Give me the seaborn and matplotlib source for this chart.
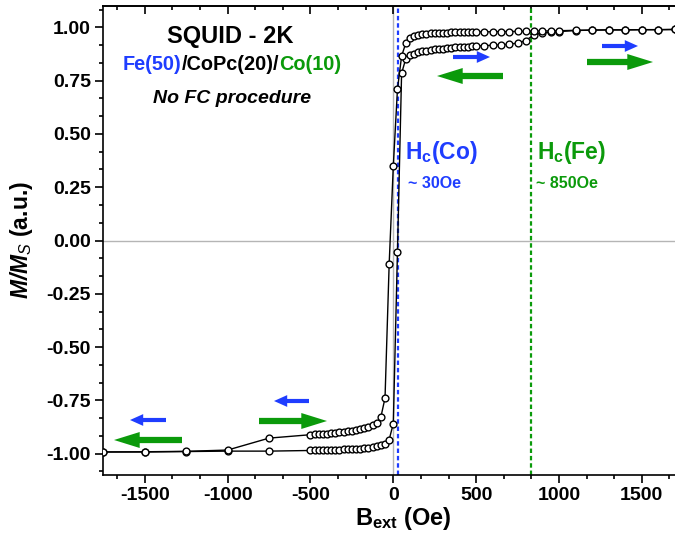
import matplotlib
matplotlib.use("Agg")
import numpy as np
import pandas as pd
import seaborn as sns
import matplotlib.pyplot as plt
from matplotlib.ticker import MultipleLocator, AutoMinorLocator, FuncFormatter

# ---------------- data ----------------
field_upper = [-1750, -1500, -1250, -1000, -750, -500, -475, -450, -425, -400,
               -375, -350, -325, -300, -275, -250, -225, -200, -175, -150,
               -125, -100, -75, -50, -25, 0, 25, 50, 75, 100,
               125, 150, 175, 200, 225, 250, 275, 300, 325, 350,
               375, 400, 425, 450, 475, 500, 550, 600, 650, 700,
               750, 800, 850, 900, 950, 1000, 1100, 1200, 1300, 1400,
               1500, 1600, 1700]
m_upper = [-0.992, -0.991, -0.989, -0.983, -0.927, -0.911, -0.910, -0.909, -0.908, -0.906,
           -0.904, -0.902, -0.900, -0.898, -0.895, -0.892, -0.889, -0.885, -0.880, -0.874,
           -0.867, -0.857, -0.828, -0.739, -0.111, 0.350, 0.709, 0.865, 0.925, 0.950,
           0.960, 0.965, 0.968, 0.970, 0.972, 0.973, 0.974, 0.975, 0.975, 0.976,
           0.976, 0.977, 0.977, 0.977, 0.978, 0.978, 0.979, 0.979, 0.980, 0.980,
           0.981, 0.981, 0.982, 0.983, 0.983, 0.984, 0.986, 0.987, 0.988, 0.988,
           0.989, 0.989, 0.990]

field_lower = [-1750, -1500, -1250, -1000, -750, -500, -475, -450, -425, -400,
               -375, -350, -325, -300, -275, -250, -225, -200, -175, -150,
               -125, -100, -75, -50, -25, 0, 25, 50, 75, 100,
               125, 150, 175, 200, 225, 250, 275, 300, 325, 350,
               375, 400, 425, 450, 475, 500, 550, 600, 650, 700,
               750, 800, 850, 900, 950, 1000, 1100, 1200, 1300, 1400,
               1500, 1600, 1700]
m_lower = [-0.992, -0.992, -0.990, -0.988, -0.988, -0.985, -0.985, -0.984, -0.984, -0.983,
           -0.983, -0.982, -0.981, -0.980, -0.979, -0.978, -0.977, -0.976, -0.974, -0.972,
           -0.969, -0.966, -0.961, -0.953, -0.934, -0.859, -0.056, 0.784, 0.852, 0.868,
           0.877, 0.883, 0.887, 0.890, 0.893, 0.896, 0.898, 0.900, 0.902, 0.904,
           0.906, 0.907, 0.909, 0.910, 0.911, 0.912, 0.914, 0.916, 0.918, 0.921,
           0.926, 0.938, 0.966, 0.973, 0.977, 0.980, 0.985, 0.987, 0.988, 0.988,
           0.989, 0.989, 0.990]

hc_co = 30
hc_fe = 830
x_ticks_major = 500
y_ticks_major = 0.25

BLUE = "#1f3dff"
GREEN = "#0b9a0b"

# ---------------- style ----------------
sns.set_theme(style="ticks")
plt.rcParams["font.family"] = ["Liberation Sans", "DejaVu Sans"]
plt.rcParams.update({
    "mathtext.fontset": "custom",
    "mathtext.rm": "Liberation Sans",
    "mathtext.bf": "Liberation Sans:bold",
    "mathtext.it": "Liberation Sans:italic",
    "mathtext.bfit": "Liberation Sans:bold:italic",
    "axes.unicode_minus": False,
    "text.color": "black",
    "axes.labelcolor": "black",
    "xtick.color": "black",
    "ytick.color": "black",
    "xtick.labelcolor": "black",
    "ytick.labelcolor": "black",
})

W, H = 675, 539
fig = plt.figure(figsize=(W / 100, H / 100), dpi=100)
ax_l, ax_r, ax_t, ax_b = 102.5, 675, 6, 475
ax = fig.add_axes([ax_l / W, 1 - ax_b / H, (ax_r - ax_l) / W, (ax_b - ax_t) / H])

df_up = pd.DataFrame({"B": field_upper, "M": m_upper})
df_lo = pd.DataFrame({"B": field_lower, "M": m_lower})

ax.axhline(0, color="#b5b5b5", lw=1, zorder=0)
ax.axvline(0, color="#b5b5b5", lw=1, zorder=0)
ax.axvline(hc_co, color=BLUE, lw=1.6, ls=(0, (2, 1.3)), zorder=1)
ax.axvline(hc_fe, color=GREEN, lw=1.6, ls=(0, (2, 1.3)), zorder=1)

mk = dict(marker="o", markerfacecolor="white", markeredgecolor="black",
          markersize=4.9, markeredgewidth=1.0)
sns.lineplot(data=df_lo, x="B", y="M", sort=False, estimator=None, color="black",
             lw=1.0, ax=ax, zorder=3, **mk)
sns.lineplot(data=df_up, x="B", y="M", sort=False, estimator=None, color="black",
             lw=1.0, ax=ax, zorder=4, **mk)

ax.set_xlim(-1755, 1700)
ax.set_ylim(-1.1, 1.1)
ax.set_xlabel("")
ax.set_ylabel("")

ax.xaxis.set_major_locator(MultipleLocator(x_ticks_major))
ax.xaxis.set_minor_locator(AutoMinorLocator(3))
ax.yaxis.set_major_locator(MultipleLocator(y_ticks_major))
ax.yaxis.set_minor_locator(AutoMinorLocator(3))
ax.xaxis.set_major_formatter(FuncFormatter(lambda v, p: f"{v:.0f}"))
ax.yaxis.set_major_formatter(FuncFormatter(lambda v, p: f"{v:.2f}"))

for s in ["left", "bottom", "top"]:
    ax.spines[s].set_linewidth(1.2)
    ax.spines[s].set_color("black")
ax.spines["right"].set_visible(False)

ax.tick_params(which="major", length=5.8, width=1.2, color="black", direction="out",
               labelsize=14, pad=2.5, labelcolor="black")
ax.tick_params(which="minor", length=3.1, width=1.2, color="black", direction="out")
for lab in ax.get_xticklabels() + ax.get_yticklabels():
    lab.set_fontweight("bold")

sec = ax.secondary_xaxis("top")
sec.xaxis.set_major_locator(MultipleLocator(x_ticks_major))
sec.xaxis.set_minor_locator(AutoMinorLocator(3))
sec.tick_params(which="major", direction="in", length=5.8, width=1.2, labeltop=False,
                color="black")
sec.tick_params(which="minor", direction="in", length=3.1, width=1.2, color="black")
sec.spines["top"].set_linewidth(1.2)
sec.spines["top"].set_color("black")


def fp(px, py):
    return (px / W, 1 - py / H)


# axis labels
fig.text(*fp(403, 519), r"B$_{\mathbf{ext}}$ (Oe)", ha="center", va="center",
         fontsize=17, fontweight="bold")
fig.text(*fp(22, 240), r"$\mathbfit{M/M}_{\mathit{S}}$ (a.u.)", ha="center", va="center",
         rotation=90, fontsize=16.5, fontweight="bold")

# annotations
fig.text(*fp(230, 37), "SQUID - 2K", ha="center", va="center", fontsize=17, fontweight="bold")
t1 = fig.text(*fp(123, 65), "Fe(50)", ha="left", va="center", fontsize=14.3,
              fontweight="bold", color=BLUE)
t2 = ax.annotate("/CoPc(20)/", xy=(1, 0), xycoords=t1, ha="left", va="bottom",
                 fontsize=14.3, fontweight="bold", color="black")
t3 = ax.annotate("Co(10)", xy=(1, 0), xycoords=t2, ha="left", va="bottom",
                 fontsize=14.3, fontweight="bold", color=GREEN)
fig.text(*fp(232, 98), "No FC procedure", ha="center", va="center", fontsize=14,
         fontweight="bold", fontstyle="italic")

fig.text(*fp(405, 152), r"H$_{\mathbf{c}}$(Co)", ha="left", va="center", fontsize=16.5,
         fontweight="bold", color=BLUE)
fig.text(*fp(408, 183), "~ 30Oe", ha="left", va="center", fontsize=11.5,
         fontweight="bold", color=BLUE)
fig.text(*fp(537, 152), r"H$_{\mathbf{c}}$(Fe)", ha="left", va="center", fontsize=16.5,
         fontweight="bold", color=GREEN)
fig.text(*fp(536, 183), "~ 850Oe", ha="left", va="center", fontsize=11.5,
         fontweight="bold", color=GREEN)

# block arrows (tail -> tip), figure pixel coords (top-left origin)
arrows = [
    ((453, 57), (490, 57), BLUE, "small"),
    ((503, 76), (437, 76), GREEN, "big"),
    ((602, 46), (638, 46), BLUE, "small"),
    ((587, 62), (653, 62), GREEN, "big"),
    ((166, 420), (130, 420), BLUE, "small"),
    ((182, 440), (114, 440), GREEN, "big"),
    ((309, 401), (274, 401), BLUE, "small"),
    ((259, 421), (327, 421), GREEN, "big"),
]
styles = {
    "small": "simple,head_length=0.95,head_width=0.85,tail_width=0.3",
    "big": "simple,head_length=1.85,head_width=1.15,tail_width=0.45",
}
for (x0, y0), (x1, y1), c, kind in arrows:
    ax.annotate("", xy=(x1, H - y1), xytext=(x0, H - y0), xycoords="figure pixels",
                textcoords="figure pixels",
                arrowprops=dict(arrowstyle=styles[kind], color=c, lw=0,
                                shrinkA=0, shrinkB=0, mutation_scale=10))

fig.savefig("out.png", dpi=100)
